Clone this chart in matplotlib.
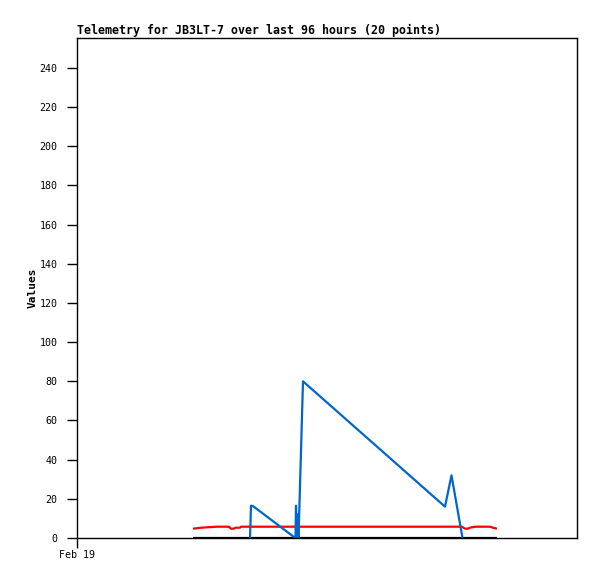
import matplotlib
matplotlib.use("Agg")
import matplotlib.pyplot as plt

# hours since Feb 19 00:00 (approx.)
red_x = [23.2, 24.8, 28.0, 30.4, 30.8, 31.4, 31.6, 32.6, 32.8, 77.0, 77.6, 78.2, 78.6, 79.6, 82.6, 83.2, 84.0]
red_y = [4.75, 5.26, 5.77, 5.77, 4.75, 4.75, 5.26, 5.26, 5.77, 5.77, 4.75, 4.75, 5.26, 5.77, 5.77, 5.26, 4.75]

black_x = [23.2, 84.0]
black_y = [0, 0]

blue_x = [34.6, 34.8, 35.2, 43.4, 43.7, 43.8, 44.0, 44.14, 44.3, 45.2, 73.6, 74.9, 77.1]
blue_y = [0, 16.5, 16.3, 0.5, 0, 16.5, 0, 12, 0, 80, 16, 32, 0]

yticks = list(range(0, 241, 20))
xticks = [0]
xticklabels = ["Feb 19"]
title = "Telemetry for JB3LT-7 over last 96 hours (20 points)"

fig = plt.figure(figsize=(5.97, 5.79), dpi=100)
ax = fig.add_axes([77/597, 41/579, 500/597, 500/579])

ax.plot(black_x, black_y, color="black", lw=1.6, solid_capstyle="butt")
ax.plot(red_x, red_y, color="#ff0000", lw=1.6, solid_capstyle="butt")
ax.plot(blue_x, blue_y, color="#0066cc", lw=1.6, solid_capstyle="butt")

ax.set_xlim(0, 100)
ax.set_ylim(0, 255.3)
ax.set_yticks(yticks)
ax.set_xticks(xticks)
ax.set_xticklabels(xticklabels)

mono = "DejaVu Sans Mono"
for lab in ax.get_yticklabels() + ax.get_xticklabels():
    lab.set_family(mono)
    lab.set_fontsize(7.2)
ax.tick_params(axis="both", direction="out", length=7, width=1, color="black", pad=2)
ax.tick_params(axis="y", pad=7)
for s in ax.spines.values():
    s.set_linewidth(1)
    s.set_color("black")

ax.set_ylabel("Values", family=mono, fontweight="bold", fontsize=8, labelpad=1.5)
ax.set_title(title, family=mono, fontweight="bold", fontsize=8.4, loc="left", pad=3)

fig.savefig("out.png", dpi=100)
